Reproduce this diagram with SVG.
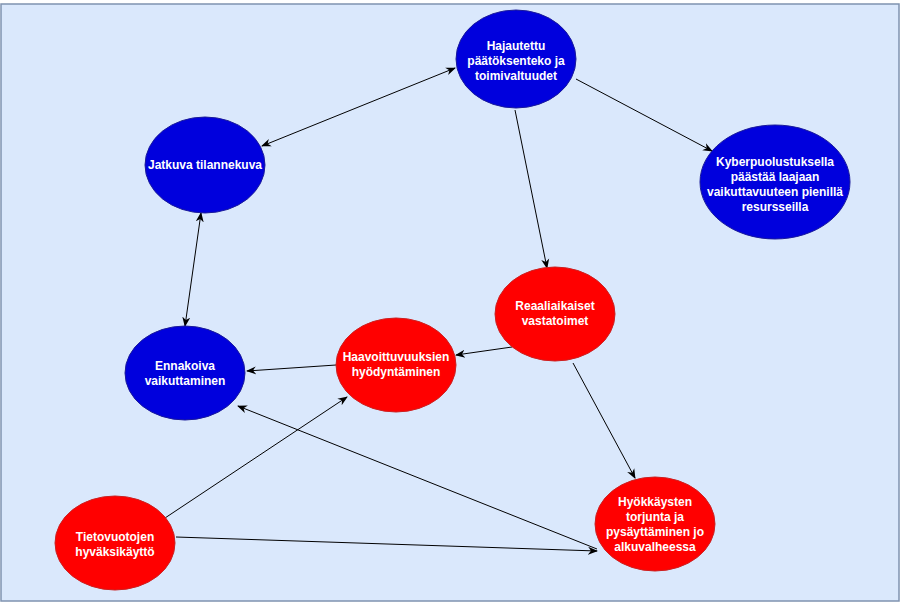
<svg xmlns="http://www.w3.org/2000/svg" width="902" height="605" viewBox="0 0 902 605">
<defs>
<style>
.bg{fill:#dae8fc;stroke:#7f93b0;stroke-width:1.5}
.blue{fill:#0000dd;stroke:#1a1a9a;stroke-width:1}
.red{fill:#ff0000;stroke:#cc2020;stroke-width:1}
.lbl{font-family:"Liberation Sans",Arial,sans-serif;font-size:12px;font-weight:bold;fill:#ffffff;text-anchor:middle}
.edge{stroke:#000000;stroke-width:1;fill:none;marker-end:url(#ah)}
.both{marker-start:url(#ahs)}
</style>
<marker id="ah" viewBox="0 0 10 10" refX="9" refY="5" markerWidth="10" markerHeight="10" markerUnits="userSpaceOnUse" orient="auto">
<path d="M0,1 L10,5 L0,9 L3,5 Z" fill="#000"/>
</marker>
<marker id="ahs" viewBox="0 0 10 10" refX="1" refY="5" markerWidth="10" markerHeight="10" markerUnits="userSpaceOnUse" orient="auto">
<path d="M10,1 L0,5 L10,9 L7,5 Z" fill="#000"/>
</marker>
</defs>
<rect class="bg" x="1" y="4" width="898" height="597"/>
<g id="connectors">
<line class="edge both" x1="262" y1="146" x2="455" y2="68"/>
<line class="edge" x1="576" y1="79" x2="712" y2="151"/>
<line class="edge" x1="515" y1="110" x2="547" y2="268"/>
<line class="edge both" x1="201" y1="213" x2="185" y2="326"/>
<line class="edge" x1="512" y1="347" x2="456" y2="355"/>
<line class="edge" x1="336" y1="365" x2="247" y2="371"/>
<line class="edge" x1="573" y1="363" x2="635" y2="478"/>
<line class="edge" x1="165" y1="518" x2="347" y2="397"/>
<line class="edge" x1="597" y1="549" x2="238" y2="406"/>
<line class="edge" x1="176" y1="537" x2="597" y2="551"/>
</g>
<g id="n-hajautettu">
<ellipse class="blue" cx="516" cy="59" rx="60" ry="49"/>
<text class="lbl" x="516" y="50">Hajautettu</text>
<text class="lbl" x="516" y="65">päätöksenteko ja</text>
<text class="lbl" x="516" y="80">toimivaltuudet</text>
</g>
<g id="n-kyber">
<ellipse class="blue" cx="775" cy="182" rx="75" ry="57"/>
<text class="lbl" x="775" y="166">Kyberpuolustuksella</text>
<text class="lbl" x="775" y="181">päästää laajaan</text>
<text class="lbl" x="775" y="196">vaikuttavuuteen pienillä</text>
<text class="lbl" x="775" y="211">resursseilla</text>
</g>
<g id="n-jatkuva">
<ellipse class="blue" cx="205" cy="165" rx="60" ry="48"/>
<text class="lbl" x="205" y="169">Jatkuva tilannekuva</text>
</g>
<g id="n-ennakoiva">
<ellipse class="blue" cx="185" cy="373" rx="60" ry="47"/>
<text class="lbl" x="185" y="370">Ennakoiva</text>
<text class="lbl" x="185" y="385">vaikuttaminen</text>
</g>
<g id="n-haavoittuvuuksien">
<ellipse class="red" cx="396" cy="365" rx="60" ry="47"/>
<text class="lbl" x="396" y="361">Haavoittuvuuksien</text>
<text class="lbl" x="396" y="376">hyödyntäminen</text>
</g>
<g id="n-reaaliaikaiset">
<ellipse class="red" cx="555" cy="314" rx="60" ry="47"/>
<text class="lbl" x="555" y="310">Reaaliaikaiset</text>
<text class="lbl" x="555" y="325">vastatoimet</text>
</g>
<g id="n-tietovuotojen">
<ellipse class="red" cx="115" cy="543" rx="60" ry="47"/>
<text class="lbl" x="115" y="541">Tietovuotojen</text>
<text class="lbl" x="115" y="556">hyväksikäyttö</text>
</g>
<g id="n-hyokkaysten">
<ellipse class="red" cx="655" cy="524" rx="60" ry="47"/>
<text class="lbl" x="655" y="506">Hyökkäysten</text>
<text class="lbl" x="655" y="521">torjunta ja</text>
<text class="lbl" x="655" y="536">pysäyttäminen jo</text>
<text class="lbl" x="655" y="551">alkuvalheessa</text>
</g>
</svg>
